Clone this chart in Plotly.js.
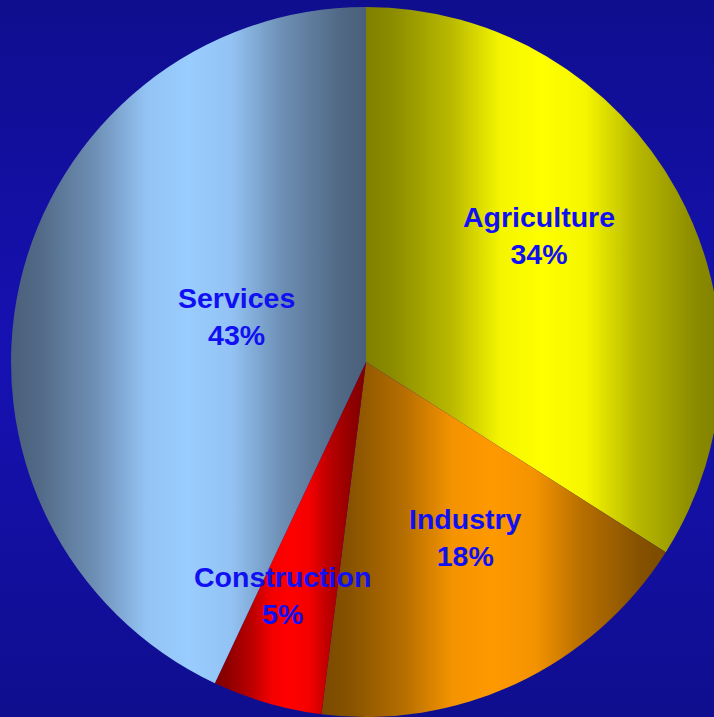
<!DOCTYPE html>
<html>
<head>
<meta charset="utf-8">
<script src="https://cdn.plot.ly/plotly-3.0.1.min.js"></script>
<style>
  html, body { margin: 0; padding: 0; overflow: hidden; width: 714px; height: 717px; }
  body { background: linear-gradient(to bottom, #0f0e8e 0%, #1611b2 50%, #0f0e8e 100%); }
  #chart { width: 730px; height: 717px; }
</style>
</head>
<body>
<div id="chart"></div>
<script>
// ---- data ----
var categories = ["Agriculture", "Industry", "Construction", "Services"];
var shares = [34, 18, 5, 43];
var brightColors = ["#ffff00", "#ff9900", "#ff0000", "#99ccff"];
var darkColors = ["#808000", "#7a4a00", "#800000", "#4a5f7a"];

// label centres in pixels (text positions)
var labelPx = [[539, 236], [465, 537], [282, 595], [236, 316]];

var W = 730, H = 717;
var total = shares.reduce(function (a, b) { return a + b; }, 0);

var trace = {
  type: "pie",
  labels: categories,
  values: shares,
  sort: false,
  direction: "clockwise",
  rotation: 0,
  textinfo: "none",
  hoverinfo: "label+percent",
  marker: { colors: brightColors, line: { width: 0 } },
  domain: { x: [11 / W, 721 / W], y: [0, 1 - 7 / H] },
  showlegend: false
};

var annotations = categories.map(function (c, i) {
  var pct = Math.round(shares[i] / total * 100);
  return {
    xref: "paper", yref: "paper",
    x: labelPx[i][0] / W, y: 1 - labelPx[i][1] / H,
    xanchor: "center", yanchor: "middle",
    text: "<b>" + c + "<br>" + pct + "%</b>",
    showarrow: false,
    font: { family: "Liberation Sans, Arial, sans-serif", size: 28.5, color: "#1010f2" }
  };
});

var layout = {
  width: W, height: H,
  margin: { l: 0, r: 0, t: 0, b: 0 },
  paper_bgcolor: "rgba(0,0,0,0)",
  plot_bgcolor: "rgba(0,0,0,0)",
  annotations: annotations
};

function hexToRgb(h) {
  return [parseInt(h.substr(1, 2), 16), parseInt(h.substr(3, 2), 16), parseInt(h.substr(5, 2), 16)];
}
function mix(a, b, t) {
  var A = hexToRgb(a), B = hexToRgb(b);
  return "rgb(" + A.map(function (v, k) { return Math.round(v + (B[k] - v) * t); }).join(",") + ")";
}
// shading profile across each slice (offset, brightness)
var profile = [[0, 0], [0.08, 0.1], [0.24, 0.45], [0.38, 0.92], [0.5, 1], [0.62, 0.92], [0.76, 0.45], [0.92, 0.1], [1, 0]];

Plotly.newPlot("chart", [trace], layout, { displayModeBar: false, staticPlot: true }).then(function () {
  var svg = document.querySelector("#chart .main-svg");
  var ns = "http://www.w3.org/2000/svg";
  var defs = document.createElementNS(ns, "defs");
  svg.insertBefore(defs, svg.firstChild);
  categories.forEach(function (c, i) {
    var g = document.createElementNS(ns, "linearGradient");
    g.setAttribute("id", "sliceGrad" + i);
    g.setAttribute("x1", "0"); g.setAttribute("y1", "0");
    g.setAttribute("x2", "1"); g.setAttribute("y2", "0");
    profile.forEach(function (s) {
      var st = document.createElementNS(ns, "stop");
      st.setAttribute("offset", s[0]);
      st.setAttribute("stop-color", mix(darkColors[i], brightColors[i], s[1]));
      g.appendChild(st);
    });
    defs.appendChild(g);
  });
  var paths = document.querySelectorAll("#chart g.slice path.surface");
  paths.forEach(function (p, i) {
    p.style.fill = "url(#sliceGrad" + i + ")";
  });
});
</script>
</body>
</html>
